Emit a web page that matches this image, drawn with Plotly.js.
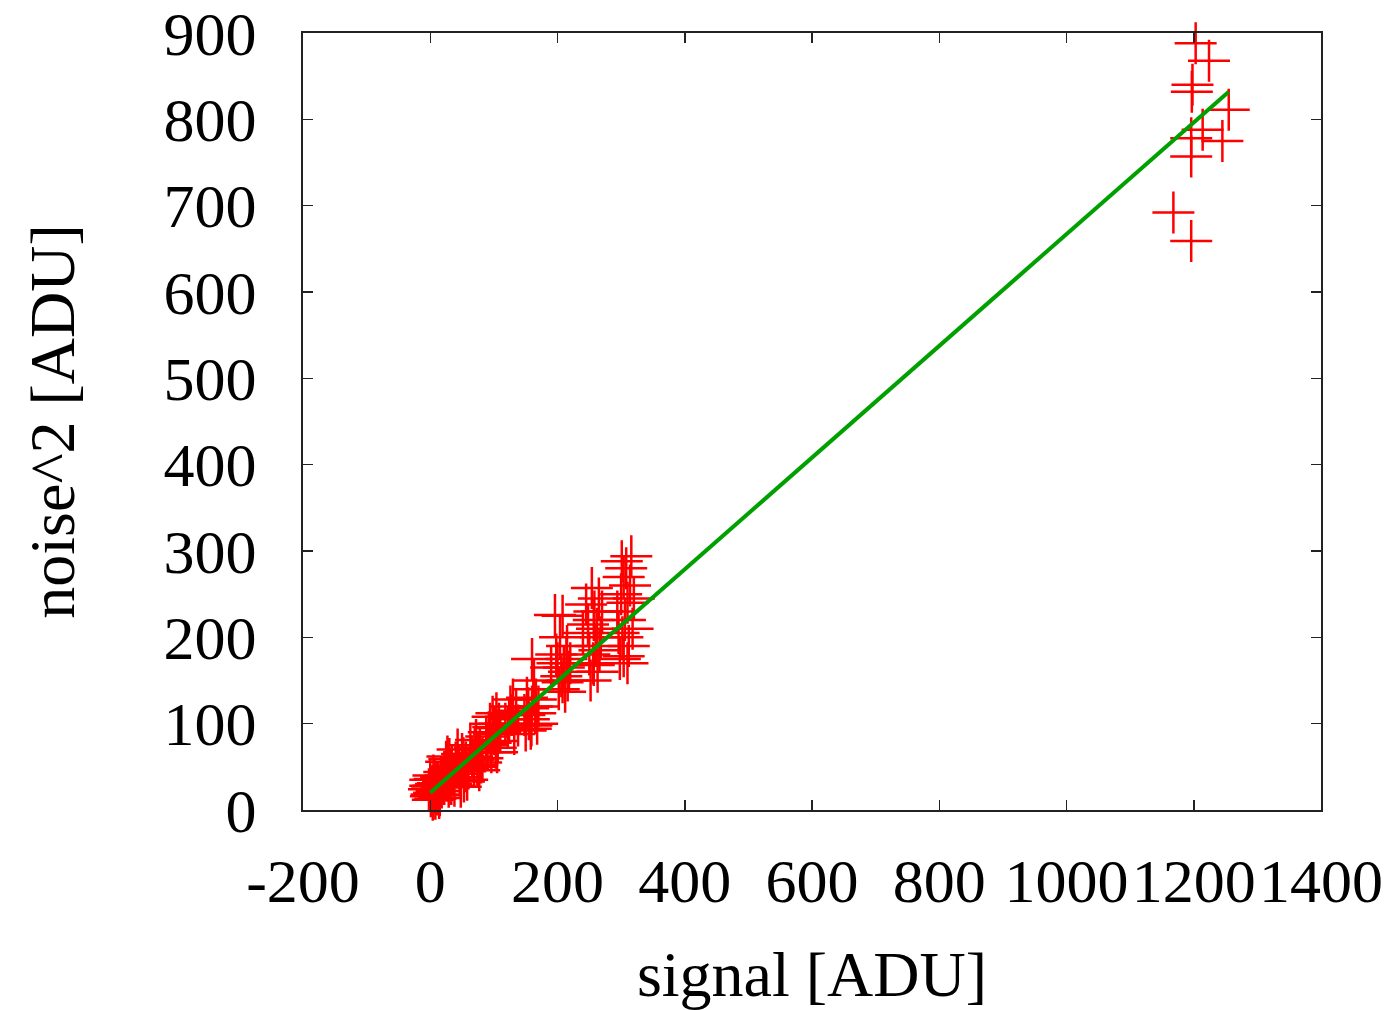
<!DOCTYPE html>
<html>
<head>
<meta charset="utf-8">
<script src="https://cdn.plot.ly/plotly-3.0.1.min.js"></script>
<style>
  html, body { margin: 0; padding: 0; background: #fff; }
  #chart { width: 1392px; height: 1010px; }
</style>
</head>
<body>
<div id="chart"></div>
<script>
// measured points: signal [ADU] vs noise^2 [ADU]
const signal = [
  0, 2, 5, 8, 10, 12, 15, 18, 4, -2, 20, 14,
  6, 9, 3, 11, 16, 7, 13, 1, 0, 5, 17, 22,
  25, 28, 31, 30, 33, 36, 22, 29,
  26, 34, 38, 24, 32, 40, 27,
  48, 50, 52, 55, 48, 58, 45,
  46, 53, 56, 60, 50, 43,
  68, 72, 75, 77, 70, 80,
  66, 74, 78, 82, 69, 63,
  90, 94, 96, 100, 102, 104, 106, 98, 105, 92,
  88, 95, 99, 103, 108, 110,
  122, 128, 132, 126,
  118, 124, 135, 138, 130,
  150, 152, 155, 158, 160, 162, 165, 163, 168, 160,
  148, 154, 166, 170, 159,
  196, 200, 202, 206, 208, 210, 212, 214, 218, 208, 215, 204,
  190, 198, 216, 220,
  250, 252, 254, 256, 257, 258, 260, 262, 263, 265, 268, 257, 245,
  240, 248, 266, 270,
  298, 300, 302, 304, 306, 308, 310, 310, 312, 314, 316, 318, 301, 304,
  294, 320, 296,
  1203, 1224, 1198, 1197, 1255, 1214, 1245, 1196, 1196, 1168, 1196
];
const noise2 = [
  35, 18, 28, 13, 22, 31, 17, 26, 12, 24, 34, 14,
  20, 30, 25, 18, 29, 36, 22, 16, 28, 40, 38, 30,
  56, 38, 47, 59, 30, 42, 44, 27,
  34, 50, 28, 40, 36, 55, 62,
  38, 52, 60, 45, 27, 35, 50,
  42, 33, 55, 48, 65, 70,
  58, 81, 66, 46, 72, 55,
  62, 52, 70, 60, 50, 75,
  75, 100, 67, 88, 95, 112, 80, 108, 67, 90,
  85, 78, 96, 72, 100, 90,
  95, 110, 88, 120,
  100, 105, 115, 98, 128,
  92, 130, 105, 94, 120, 140, 112, 150, 100, 175,
  110, 118, 128, 120, 98,
  226, 170, 140, 155, 225, 165, 137, 175, 160, 148, 190, 200,
  165, 180, 150, 170,
  180, 150, 257, 170, 220, 230, 190, 210, 160, 245, 200, 168, 238,
  205, 215, 185, 230,
  175, 250, 200, 270, 220, 280, 240, 170, 190, 260, 294, 210, 288, 178,
  230, 245, 205,
  888, 868, 840, 832, 811, 788, 775, 778, 757, 692, 659
];
// fitted line endpoints
const fitX = [0, 1255];
const fitY = [20, 832];

const xTicks = [-200, 0, 200, 400, 600, 800, 1000, 1200, 1400];
const yTicks = [0, 100, 200, 300, 400, 500, 600, 700, 800, 900];

const font = 'Liberation Serif, Times New Roman, serif';

const traces = [
  {
    x: signal, y: noise2, type: 'scatter', mode: 'markers',
    cliponaxis: false,
    marker: { symbol: 'cross-thin-open', size: 30, color: '#ff0000',
              line: { color: '#ff0000', width: 2.5 } },
    showlegend: false
  },
  {
    x: fitX, y: fitY, type: 'scatter', mode: 'lines',
    line: { color: '#00a000', width: 4 },
    showlegend: false
  }
];

const axisCommon = {
  showgrid: false, zeroline: false, showline: true, mirror: 'ticks',
  linecolor: '#222', linewidth: 2, ticks: 'inside', ticklen: 10,
  tickwidth: 1.5, tickcolor: '#222', ticklabeloverflow: 'allow',
  tickfont: { family: font, size: 62, color: '#000' }
};

const layout = {
  width: 1392, height: 1010,
  margin: { l: 303, r: 71, t: 33, b: 200 },
  paper_bgcolor: '#fff', plot_bgcolor: '#fff',
  xaxis: Object.assign({}, axisCommon, {
    range: [-200, 1400], tickmode: 'array', tickvals: xTicks,
    ticktext: xTicks.map(String), tickangle: 0, ticklabelstandoff: 16,
    title: { text: 'signal [ADU]', font: { family: font, size: 64, color: '#000' }, standoff: 38 }
  }),
  yaxis: Object.assign({}, axisCommon, {
    range: [0, 900], tickmode: 'array', tickvals: yTicks,
    ticktext: yTicks.map(String), ticklabelstandoff: 32,
    title: { text: 'noise^2 [ADU]', font: { family: font, size: 64, color: '#000' }, standoff: 68 }
  })
};

Plotly.newPlot('chart', traces, layout, { displayModeBar: false, staticPlot: true });
</script>
</body>
</html>
